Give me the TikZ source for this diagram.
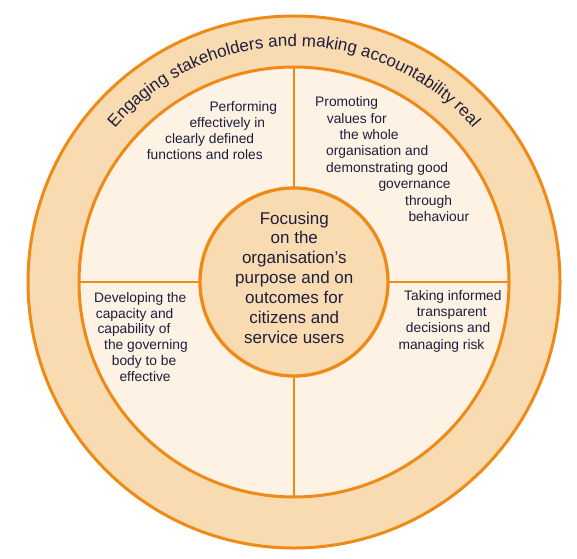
\documentclass[tikz,border=0pt]{standalone}
\usepackage{fontspec}
\setmainfont{Liberation Sans}
\usetikzlibrary{decorations.text}
\definecolor{orng}{HTML}{EF8A17}
\definecolor{ringfill}{HTML}{F9DBB2}
\definecolor{panefill}{HTML}{FDF2E4}
\definecolor{txtcol}{HTML}{1E1E3C}
\begin{document}
\begin{tikzpicture}[x=1pt,y=1pt,
  disc/.style={circle, draw=orng, outer sep=0pt, inner sep=0pt},
  divider/.style={draw=orng, line width=2.2pt},
  sidetxt/.style={anchor=base west, inner sep=0pt, font=\fontsize{13.8}{16}\selectfont, text=txtcol},
  coretxt/.style={anchor=base, inner sep=0pt, font=\fontsize{17}{20}\selectfont, text=txtcol}]
\useasboundingbox (0,0) rectangle (577,558);
\node[disc, fill=ringfill, line width=3pt, minimum size=532pt] (outer) at (294,276) {};
\node[disc, fill=panefill, line width=3pt, minimum size=430pt] (inner) at (294,276) {};
\draw[divider] (inner.north) -- (inner.south);
\draw[divider] (inner.west) -- (inner.east);
\node[disc, fill=ringfill, line width=3.3pt, minimum size=188pt] (core) at (294,276) {};
% curved title
\path[decorate, decoration={text along path, text align=center, text color=txtcol,
  text={|\fontsize{17}{20}\selectfont|Engaging stakeholders and making accountability real}}]
  (294,276) ++(140:236) arc[start angle=140, end angle=40, radius=236];
% centre
\node[coretxt] (c1) at (294.3,333.7) {Focusing};
\node[coretxt] (c2) at (294.3,314.2) {on the};
\node[coretxt] (c3) at (294.3,294.7) {organisation’s};
\node[coretxt] (c4) at (294.3,274.7) {purpose and on};
\node[coretxt] (c5) at (294.3,254.3) {outcomes for};
\node[coretxt] (c6) at (294.3,234.2) {citizens and};
\node[coretxt] (c7) at (294.3,214.2) {service users};
% top left
\node[sidetxt] (a1) at (209.3,446.3) {Performing};
\node[sidetxt] (a2) at (189.3,430.5) {effectively in};
\node[sidetxt] (a3) at (165,414.5) {clearly defined};
\node[sidetxt] (a4) at (146.7,398.5) {functions and roles};
% top right
\node[sidetxt] (b1) at (315,451.3) {Promoting};
\node[sidetxt] (b2) at (326.7,434.9) {values for};
\node[sidetxt] (b3) at (339.3,418.5) {the whole};
\node[sidetxt] (b4) at (326,402.1) {organisation and};
\node[sidetxt] (b5) at (326,385.7) {demonstrating good};
\node[sidetxt] (b6) at (378.3,369.3) {governance};
\node[sidetxt] (b7) at (405,352.9) {through};
\node[sidetxt] (b8) at (408.3,336.5) {behaviour};
% bottom left
\node[sidetxt] (d1) at (94,255.3) {Developing the};
\node[sidetxt] (d2) at (95.7,239.5) {capacity and};
\node[sidetxt] (d3) at (97.3,224.2) {capability of};
\node[sidetxt] (d4) at (104,208.5) {the governing};
\node[sidetxt] (d5) at (111.7,192.7) {body to be};
\node[sidetxt] (d6) at (119.3,176.9) {effective};
% bottom right
\node[sidetxt] (e1) at (404,257.3) {Taking informed};
\node[sidetxt] (e2) at (416.7,241.3) {transparent};
\node[sidetxt] (e3) at (405.7,225.1) {decisions and};
\node[sidetxt] (e4) at (398.3,209) {managing risk};
\end{tikzpicture}
\end{document}
